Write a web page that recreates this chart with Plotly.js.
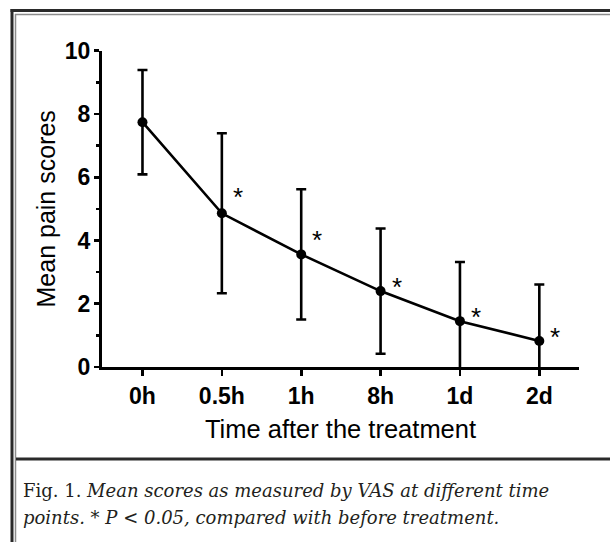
<!DOCTYPE html>
<html>
<head>
<meta charset="utf-8">
<script src="https://cdn.plot.ly/plotly-3.0.1.min.js"></script>
<style>html,body{margin:0;padding:0;background:#fff;}#chart{width:610px;height:542px;}</style>
</head>
<body>
<div id="chart"></div>
<script>
// ---- data ----
var timePoints = ['0h', '0.5h', '1h', '8h', '1d', '2d'];
var meanScores = [7.74, 4.86, 3.56, 2.40, 1.45, 0.82];
var sdScores   = [1.65, 2.53, 2.06, 1.98, 1.87, 1.79];
var sigLabels  = ['', '*', '*', '*', '*', '*'];
var sigY       = [null, 5.53, 4.17, 2.69, 1.74, 1.10];
var yTicks     = [0, 2, 4, 6, 8, 10];

var W = 610, H = 542;
function px(x) { return x / W; }
function py(y) { return 1 - y / H; }

var trace = {
  x: timePoints,
  y: meanScores,
  type: 'scatter',
  mode: 'lines+markers',
  line: {color: '#000', width: 2.6},
  marker: {color: '#000', size: 10},
  error_y: {type: 'data', array: sdScores, visible: true, color: '#000', thickness: 2.6, width: 5},
  showlegend: false,
  hoverinfo: 'skip'
};

var annotations = [];
for (var i = 0; i < timePoints.length; i++) {
  if (sigLabels[i]) {
    annotations.push({
      x: timePoints[i], y: sigY[i], xref: 'x', yref: 'y',
      text: sigLabels[i], showarrow: false, xshift: 16, yshift: -5,
      xanchor: 'center', yanchor: 'middle',
      font: {family: 'Liberation Sans, Arial, sans-serif', size: 26, color: '#000'}
    });
  }
}
var capFont = {family: 'DejaVu Serif, serif', size: 18, color: '#231f20'};
annotations.push({
  xref: 'paper', yref: 'paper', x: px(21), y: py(490), xanchor: 'left', yanchor: 'middle',
  text: 'Fig. 1. <i>Mean scores as measured by VAS at different time</i>',
  showarrow: false, align: 'left', font: capFont
});
annotations.push({
  xref: 'paper', yref: 'paper', x: px(21), y: py(517), xanchor: 'left', yanchor: 'middle',
  text: '<i>points. * P &lt; 0.05, compared with before treatment.</i>',
  showarrow: false, align: 'left', font: capFont
});

var dark = '#2a2a2a', gray = '#8c8c8c';
var shapes = [
  {type: 'line', xref: 'paper', yref: 'paper', x0: px(12), x1: px(12), y0: py(9), y1: py(542), line: {color: dark, width: 3}},
  {type: 'line', xref: 'paper', yref: 'paper', x0: px(10.5), x1: px(610), y0: py(10.5), y1: py(10.5), line: {color: dark, width: 3}},
  {type: 'line', xref: 'paper', yref: 'paper', x0: px(15.5), x1: px(15.5), y0: py(14), y1: py(542), line: {color: gray, width: 1.5}},
  {type: 'line', xref: 'paper', yref: 'paper', x0: px(15), x1: px(610), y0: py(14.5), y1: py(14.5), line: {color: gray, width: 1.5}},
  {type: 'line', xref: 'paper', yref: 'paper', x0: px(16), x1: px(610), y0: py(459), y1: py(459), line: {color: dark, width: 3}}
];

var tickFont = {family: 'Liberation Sans, Arial, sans-serif', size: 23, color: '#000', weight: 'bold'};
var titleFont = {family: 'Liberation Sans, Arial, sans-serif', size: 25, color: '#000'};

var layout = {
  width: W, height: H,
  margin: {l: 0, r: 0, t: 0, b: 0},
  paper_bgcolor: '#fff', plot_bgcolor: '#fff',
  xaxis: {
    type: 'category',
    domain: [px(102), px(579)],
    range: [-0.51, 5.5],
    showgrid: false, zeroline: false,
    showline: true, linecolor: '#000', linewidth: 3,
    ticks: 'outside', ticklen: 6, tickwidth: 2.6, tickcolor: '#000',
    tickfont: tickFont,
    title: {text: 'Time after the treatment', font: {family: titleFont.family, size: 25.5, color: '#000'}, standoff: 13},
    fixedrange: true
  },
  yaxis: {
    domain: [py(367), py(50.7)],
    range: [0, 10],
    tickvals: yTicks,
    ticktext: yTicks.map(String),
    showgrid: false, zeroline: false,
    showline: true, linecolor: '#000', linewidth: 3,
    ticks: 'outside', ticklen: 5, tickwidth: 2.6, tickcolor: '#000',
    ticklabelstandoff: -1,
    minor: {dtick: 1, ticks: 'outside', ticklen: 3, tickwidth: 2.6, tickcolor: '#000', showgrid: false},
    tickfont: tickFont,
    title: {text: 'Mean pain scores', font: titleFont, standoff: 3},
    fixedrange: true
  },
  annotations: annotations,
  shapes: shapes
};

Plotly.newPlot('chart', [trace], layout, {displayModeBar: false, staticPlot: true});
</script>
</body>
</html>
